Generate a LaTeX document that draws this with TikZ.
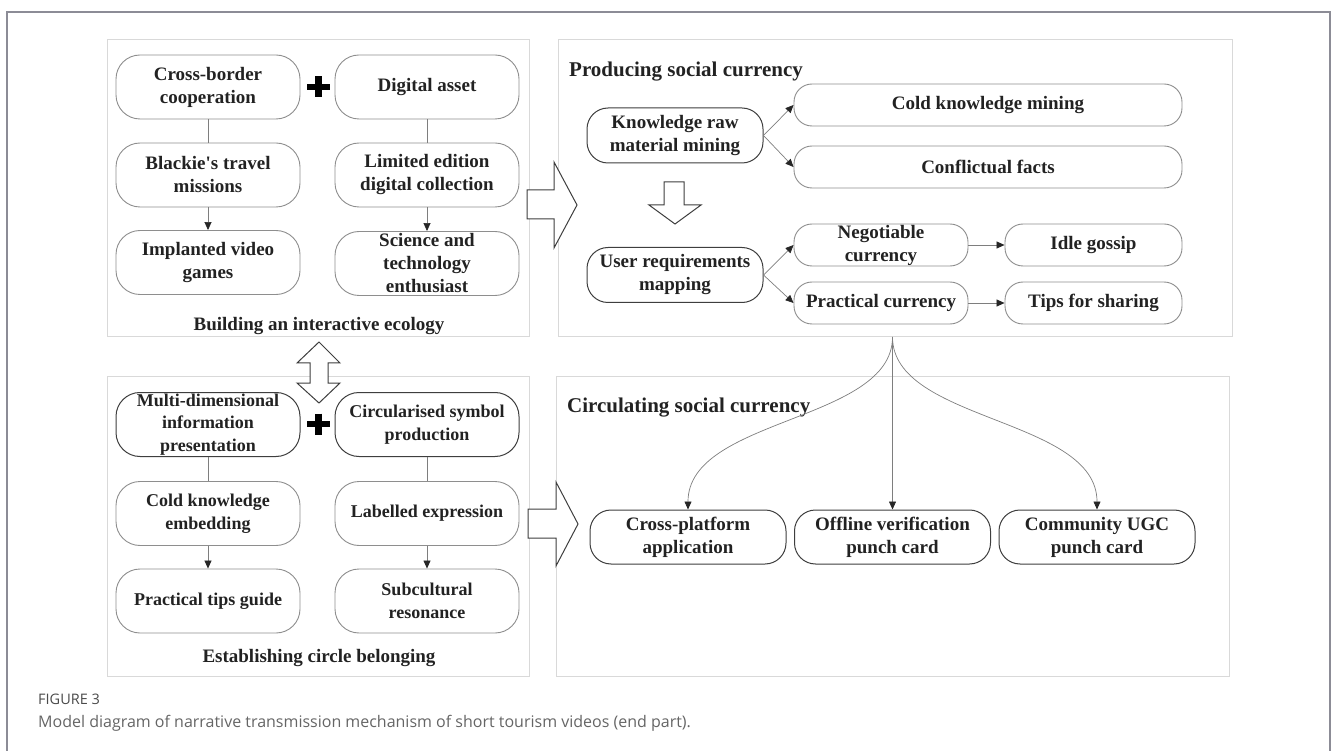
\documentclass[tikz,border=0pt]{standalone}
\usepackage{fontspec}
\setmainfont{Liberation Serif}[Ligatures=TeXOff]
\newfontfamily\capfont{Open Sans}
\usetikzlibrary{arrows.meta}
\definecolor{panelc}{HTML}{D9D9D9}
\definecolor{lightc}{HTML}{8E8E8E}
\definecolor{darkc}{HTML}{3E3E3E}
\definecolor{connc}{HTML}{7E7E7E}
\definecolor{framec}{HTML}{8C8C96}
\definecolor{txtc}{HTML}{222222}
\definecolor{capc}{HTML}{4A4A4A}
\begin{document}
\begin{tikzpicture}[x=1pt,y=-1pt,
  panel/.style={draw=panelc, line width=0.8pt},
  boxbase/.style={line width=0.9pt, align=center, inner sep=0pt, fill=white,
    text=txtc, font=\bfseries\fontsize{19}{23}\selectfont},
  lbox/.style={boxbase, draw=lightc},
  dbox/.style={boxbase, draw=darkc, line width=1pt},
  small/.style={font=\bfseries\fontsize{18}{22.5}\selectfont},
  tall/.style={minimum width=184pt, minimum height=64pt, rounded corners=24pt},
  mid/.style={minimum width=176pt, minimum height=55pt, rounded corners=21pt},
  low/.style={minimum height=42pt, rounded corners=18pt},
  bot/.style={minimum width=196pt, minimum height=54pt, rounded corners=21pt},
  conn/.style={draw=connc, line width=0.7pt},
  arr/.style={conn, -{Triangle[length=8pt,width=7pt,color=black!85]}},
  hollow/.style={draw=darkc, line width=1pt, fill=white, line join=miter},
  plusbar/.style={line width=6.5pt, draw=black},
  ptitle/.style={font=\bfseries\fontsize{19}{23}\selectfont, text=txtc, inner sep=0pt},
  rtitle/.style={font=\bfseries\fontsize{21}{25}\selectfont, text=txtc, inner sep=0pt, anchor=west}
]
\useasboundingbox (0,0) rectangle (1331,751);

% outer frame
\draw[draw=framec, line width=1.2pt] (7,751) -- (7,12) -- (1330,12) -- (1330,751);

% panels
\draw[panel] (107,39) rectangle (529,336);
\draw[panel] (558,39) rectangle (1232,336);
\draw[panel] (107,376) rectangle (529,676);
\draw[panel] (556,376) rectangle (1229,676);

% ---------- top-left panel ----------
\node[lbox,tall] (cb) at (208,87) {Cross-border\\cooperation};
\node[lbox,tall] (da) at (427,87) {Digital asset};
\node[lbox,tall] (bt) at (208,175) {Blackie's travel\\missions};
\node[lbox,tall] (ld) at (427,175) {Limited edition\\digital collection};
\node[lbox,tall] (iv) at (208,262.5) {Implanted video\\games};
\node[lbox,tall] (st) at (427,263.5) {Science and\\technology\\enthusiast};
\draw[plusbar] (307,87) -- (330,87);
\draw[plusbar] (318.5,76.5) -- (318.5,97.5);
\draw[conn] (cb.south) -- (bt.north);
\draw[conn] (da.south) -- (ld.north);
\draw[arr] (bt.south) -- (iv.north);
\draw[arr] (ld.south) -- (st.north);
\node[ptitle] (t1) at (319,326) {Building an interactive ecology};

% double arrow
\draw[hollow] (319,342) -- (340,363) -- (328,363) -- (328,383) -- (340,383)
  -- (319,403) -- (297,383) -- (310,383) -- (310,363) -- (297,363) -- cycle;

% ---------- bottom-left panel ----------
\node[dbox,tall,small] (md) at (208,424.5) {Multi-dimensional\\information\\presentation};
\node[dbox,tall,small] (cs) at (427,424.5) {Circularised symbol\\production};
\node[lbox,tall,small] (ck) at (208,513.5) {Cold knowledge\\embedding};
\node[lbox,tall,small] (le) at (427,513.5) {Labelled expression};
\node[lbox,tall,small] (pt) at (208,601) {Practical tips guide};
\node[lbox,tall,small] (sr) at (427,601) {Subcultural\\resonance};
\draw[plusbar] (307,424) -- (330,424);
\draw[plusbar] (318.5,413.5) -- (318.5,434.5);
\draw[conn] (md.south) -- (ck.north);
\draw[conn] (cs.south) -- (le.north);
\draw[arr] (ck.south) -- (pt.north);
\draw[arr] (le.south) -- (sr.north);
\node[ptitle] (t2) at (319,658) {Establishing circle belonging};

% big right arrows
\draw[hollow] (527,190) -- (554,190) -- (554,162) -- (577,205) -- (554,248)
  -- (554,219) -- (527,219) -- cycle;
\draw[hollow] (528,509) -- (556,509) -- (556,482) -- (578,524) -- (556,566)
  -- (556,538) -- (528,538) -- cycle;

% ---------- top-right panel ----------
\node[rtitle] (t3) at (569,72) {Producing social currency};
\node[dbox,mid] (kr) at (675,135.5) {Knowledge raw\\material mining};
\node[dbox,mid] (ur) at (675,275) {User requirements\\mapping};
\node[lbox,low,minimum width=388pt] (cm) at (988,105) {Cold knowledge mining};
\node[lbox,low,minimum width=388pt] (cf) at (988,167) {Conflictual facts};
\node[lbox,low,minimum width=174pt] (nc) at (881,245) {Negotiable\\currency};
\node[lbox,low,minimum width=174pt] (pc) at (881,303) {Practical currency};
\node[lbox,low,minimum width=177pt] (ig) at (1093.5,245) {Idle gossip};
\node[lbox,low,minimum width=177pt] (ts) at (1093.5,303) {Tips for sharing};
\draw[arr] (kr.east) -- (cm.west);
\draw[arr] (kr.east) -- (cf.west);
\draw[arr] (ur.east) -- (nc.west);
\draw[arr] (ur.east) -- (pc.west);
\draw[arr] (nc.east) -- (ig.west);
\draw[arr] (pc.east) -- (ts.west);
% hollow down arrow
\draw[hollow] (664,182) -- (684,182) -- (684,205) -- (701,205) -- (675,224)
  -- (649,205) -- (664,205) -- cycle;

% ---------- bottom-right panel ----------
\node[rtitle] (t4) at (567,408) {Circulating social currency};
\node[dbox,bot] (cp) at (688,537) {Cross-platform\\application};
\node[dbox,bot] (ov) at (892.5,537) {Offline verification\\punch card};
\node[dbox,bot] (cu) at (1097,537) {Community UGC\\punch card};
\coordinate (fan) at (892.5,337);
\draw[arr] (fan) .. controls +(0,85) and +(0,-92) .. (cp.north);
\draw[arr] (fan) -- (ov.north);
\draw[arr] (fan) .. controls +(0,85) and +(0,-92) .. (cu.north);

% caption
\node[anchor=west, inner sep=0pt, text=capc, font=\capfont\fontsize{14.5}{17}\selectfont] (fig) at (38,699) {FIGURE 3};
\node[anchor=west, inner sep=0pt, text=capc!85, font=\capfont\fontsize{16}{19}\selectfont] (cap) at (38,723) {Model diagram of narrative transmission mechanism of short tourism videos (end part).};
\end{tikzpicture}
\end{document}
